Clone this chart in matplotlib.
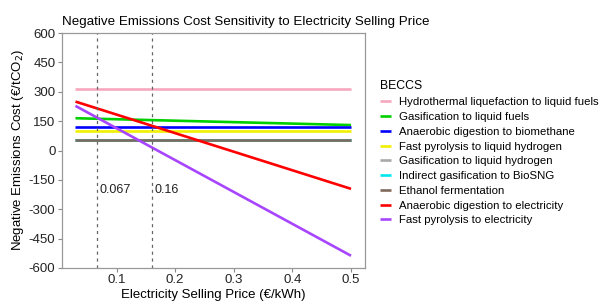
import matplotlib.pyplot as plt
import numpy as np

plt.rcParams['font.family'] = ['Liberation Sans', 'DejaVu Sans']
plt.rcParams['axes.unicode_minus'] = False

# electricity selling price (€/kWh), start and end of each line
price = [0.03, 0.5]

pathways = ['Hydrothermal liquefaction to liquid fuels',
            'Gasification to liquid fuels',
            'Anaerobic digestion to biomethane',
            'Fast pyrolysis to liquid hydrogen',
            'Gasification to liquid hydrogen',
            'Indirect gasification to BioSNG',
            'Ethanol fermentation',
            'Anaerobic digestion to electricity',
            'Fast pyrolysis to electricity']
cost_start = [315, 165, 120, 100, 55, 55, 55, 250, 228]
cost_end = [315, 130, 120, 100, 55, 55, 55, -196, -538]
colors = ['#F7A8BC', '#00D000', '#0000FF', '#F0F000', '#A8A8A8',
          '#00E8EE', '#806A5C', '#FF0000', '#A845FF']

ref_prices = [0.067, 0.16]
ref_labels = ['0.067', '0.16']

fig = plt.figure(figsize=(6.05, 3.01), dpi=100)
ax = fig.add_axes([0.102, 0.110, 0.501, 0.780])

for i in range(len(pathways)):
    ax.plot(price, [cost_start[i], cost_end[i]], color=colors[i], lw=1.9,
            label=pathways[i], solid_capstyle='butt')

for p, lab in zip(ref_prices, ref_labels):
    ax.axvline(p, color='#666666', ls=(0, (2.5, 3)), lw=0.9)
    ax.text(p + 0.004, -200, lab, fontsize=9, ha='left', va='center',
            color='#222222')

ax.set_xlim(0.0065, 0.5235)
ax.set_ylim(-600, 600)
ax.set_xticks([0.1, 0.2, 0.3, 0.4, 0.5])
ax.set_xticklabels(['0.1', '0.2', '0.3', '0.4', '0.5'])
ax.set_yticks(np.arange(-600, 601, 150))
ax.tick_params(labelsize=9.5, length=3, color='#888888', width=0.8, pad=1.5,
               labelcolor='#222222')
for s in ax.spines.values():
    s.set_color('#999999')
    s.set_linewidth(0.9)

ax.set_xlabel('Electricity Selling Price (€/kWh)', fontsize=9.5, labelpad=2)
ax.set_ylabel('Negative Emissions Cost (€/tCO$_2$)', fontsize=9.5, labelpad=2)
ax.set_title('Negative Emissions Cost Sensitivity to Electricity Selling Price',
             fontsize=9.6, loc='left', pad=6)

leg = fig.legend(loc='upper left', bbox_to_anchor=(0.620, 0.748),
                 frameon=False, title='BECCS', fontsize=8.2,
                 title_fontsize=8.8, handlelength=1.0, handletextpad=0.7,
                 labelspacing=0.42, borderaxespad=0)
leg._legend_box.align = 'left'

fig.savefig('out.png', dpi=100)
